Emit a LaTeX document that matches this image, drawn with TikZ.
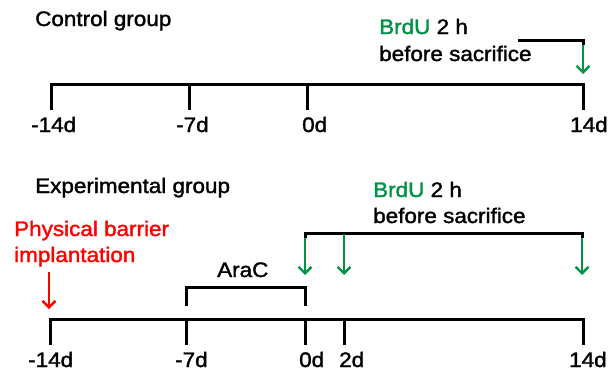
\documentclass[tikz,border=0pt]{standalone}
\usepackage{fontspec}
\setmainfont{Liberation Sans}[FakeStretch=1.07,FakeBold=1.6]
\usetikzlibrary{arrows.meta}
\definecolor{brdugreen}{RGB}{0,146,69}
\definecolor{barred}{RGB}{255,0,0}
\begin{document}
\begin{tikzpicture}[x=1pt,y=-1pt,
  lbl/.style={inner sep=0pt, anchor=base west, font=\fontsize{21}{25}\selectfont},
  axisline/.style={line width=3pt, line join=miter},
  garrow/.style={line width=2.6pt, draw=brdugreen, -{Straight Barb[length=6.5pt,width=13pt,line width=2.4pt]}},
  rarrow/.style={line width=2.6pt, draw=barred, -{Straight Barb[length=6.5pt,width=13pt,line width=2.4pt]}}]
\useasboundingbox (0,0) rectangle (609,372);

% ---------- Control group ----------
\node[lbl] (ctitle) at (35,26) {Control group};
\node[lbl] (cbrdu) at (379,34) {\textcolor{brdugreen}{BrdU} 2 h};
\node[lbl] (cbefore) at (379,61) {before sacrifice};

\coordinate (cA) at (51,84);  \coordinate (cAb) at (51,110);
\coordinate (cB) at (189,84); \coordinate (cBb) at (189,110);
\coordinate (cC) at (307,84); \coordinate (cCb) at (307,110);
\coordinate (cD) at (583,84); \coordinate (cDb) at (583,110);
\draw[axisline] (cAb) -- (cA) -- (cD) -- (cDb);
\draw[axisline] (cB) -- (cBb);
\draw[axisline] (cC) -- (cCb);

\node[lbl] (cl1) at (31,132) {-14d};
\node[lbl] (cl2) at (176,132) {-7d};
\node[lbl] (cl3) at (302,132) {0d};
\node[lbl] (cl4) at (570,132) {14d};

\coordinate (cbrL) at (518,40);
\coordinate (cbrR) at (583,40);
\coordinate (cbrG) at (583,45);
\coordinate (cbrT) at (583,74);
\draw[axisline] (cbrL) -- (cbrR) -- (cbrG);
\draw[garrow] (cbrG) -- (cbrT);

% ---------- Experimental group ----------
\node[lbl] (etitle) at (35,193) {Experimental group};
\node[lbl, text=barred] (ephys) at (14,236) {Physical barrier};
\node[lbl, text=barred] (eimpl) at (14,262) {implantation};
\node[lbl] (earac) at (217,277) {AraC};
\node[lbl] (ebrdu) at (373,197) {\textcolor{brdugreen}{BrdU} 2 h};
\node[lbl] (ebefore) at (373,223) {before sacrifice};

\coordinate (eA) at (50,319);  \coordinate (eAb) at (50,345);
\coordinate (eB) at (186,319); \coordinate (eBb) at (186,345);
\coordinate (eC) at (305,319); \coordinate (eCb) at (305,345);
\coordinate (eE) at (344,319); \coordinate (eEb) at (344,345);
\coordinate (eD) at (583,319); \coordinate (eDb) at (583,345);
\draw[axisline] (eAb) -- (eA) -- (eD) -- (eDb);
\draw[axisline] (eB) -- (eBb);
\draw[axisline] (eC) -- (eCb);
\draw[axisline] (eE) -- (eEb);

\node[lbl] (el1) at (28,367) {-14d};
\node[lbl] (el2) at (175,367) {-7d};
\node[lbl] (el3) at (299,367) {0d};
\node[lbl] (el4) at (339,367) {2d};
\node[lbl] (el5) at (569,367) {14d};

% AraC bracket
\coordinate (aL) at (186,306); \coordinate (aLt) at (186,287);
\coordinate (aR) at (305,306); \coordinate (aRt) at (305,287);
\draw[axisline] (aL) -- (aLt) -- (aRt) -- (aR);

% red arrow
\coordinate (rT) at (49,272); \coordinate (rB) at (49,309);
\draw[rarrow] (rT) -- (rB);

% BrdU bracket
\coordinate (bL) at (305,233); \coordinate (bLg) at (305,238);
\coordinate (bM) at (344,233); \coordinate (bMs) at (344,234);
\coordinate (bR) at (582,233); \coordinate (bRg) at (582,238);
\coordinate (bLe) at (305,275);
\coordinate (bMe) at (344,275);
\coordinate (bRe) at (582,275);
\draw[axisline] (bLg) -- (bL) -- (bR) -- (bRg);
\draw[garrow] (bLg) -- (bLe);
\draw[garrow] (bMs) -- (bMe);
\draw[garrow] (bRg) -- (bRe);
\end{tikzpicture}
\end{document}
